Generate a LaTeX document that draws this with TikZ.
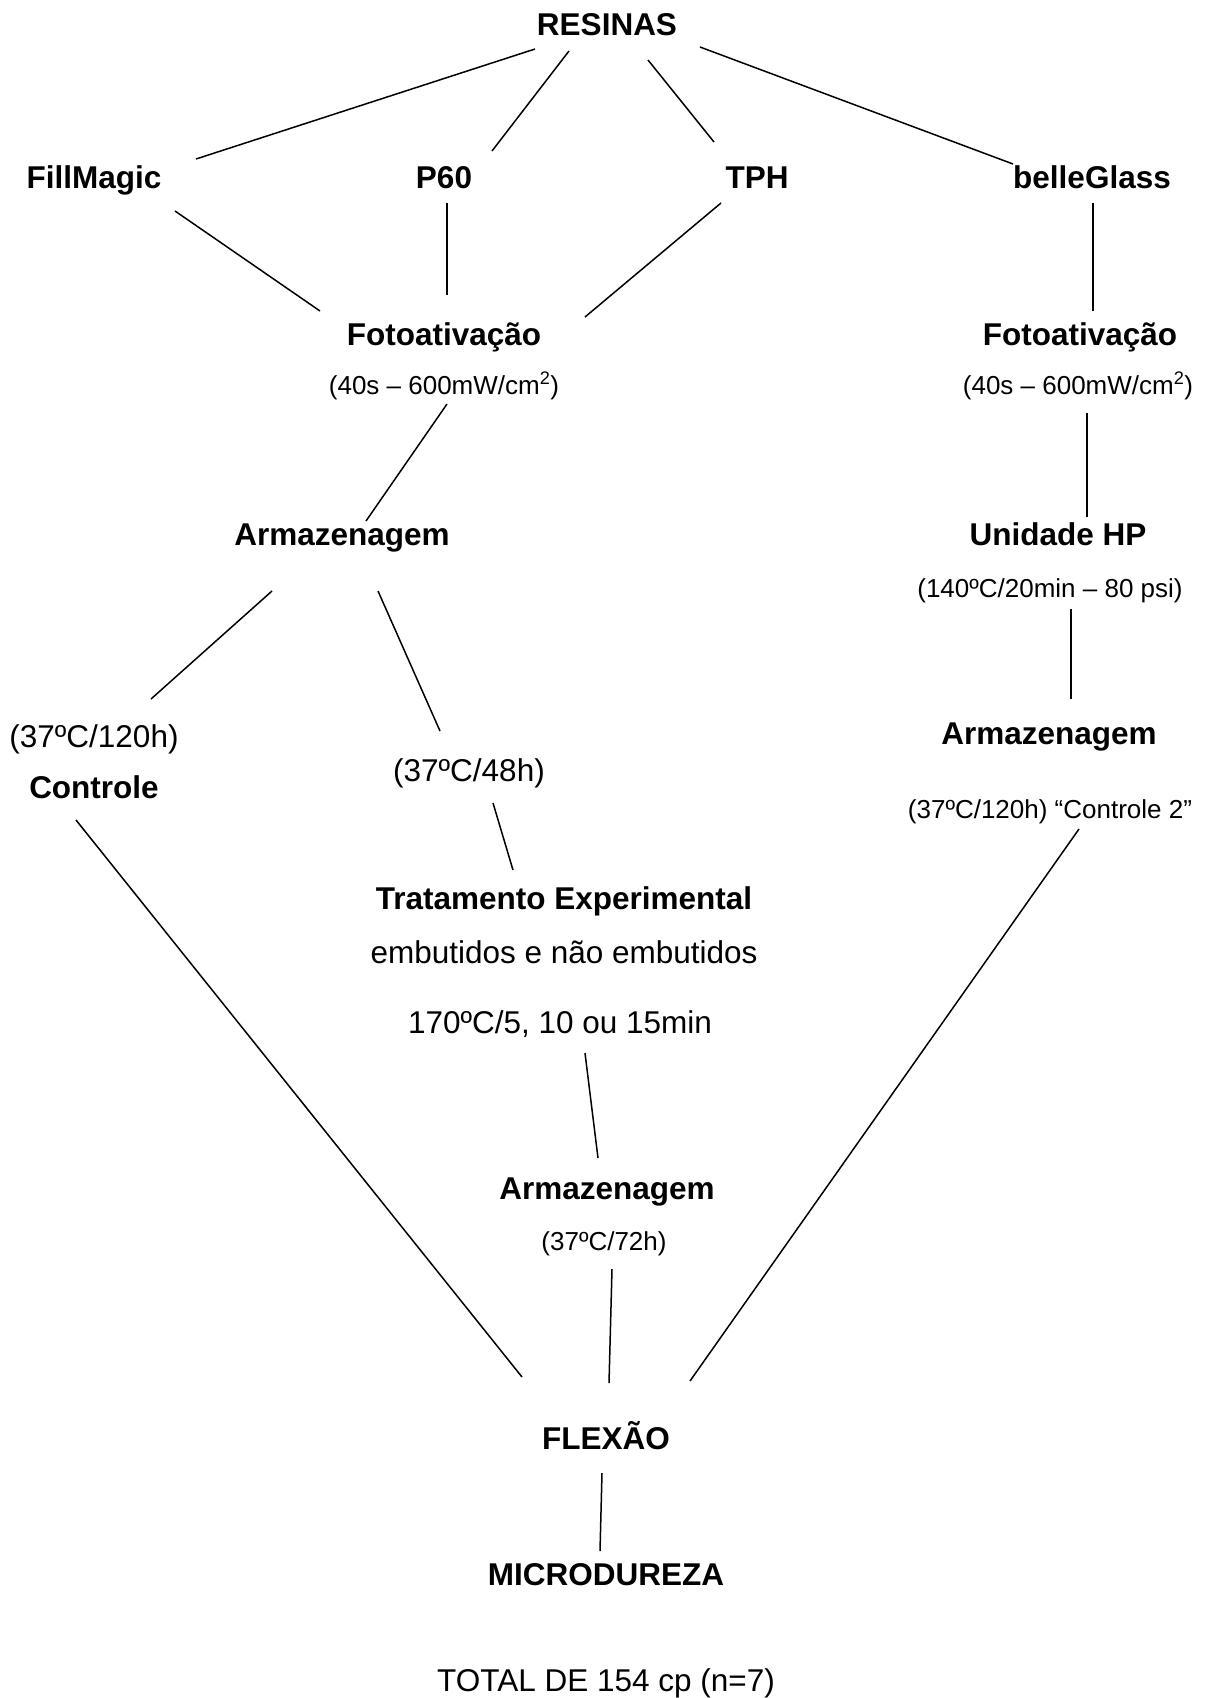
\documentclass[tikz,border=0pt]{standalone}
\usepackage{fontspec}
\setmainfont{Liberation Sans}
\begin{document}
\begin{tikzpicture}[x=1pt,y=-1pt,
  big/.style={anchor=base,inner sep=0pt,font=\fontsize{31.5}{36}\selectfont\bfseries},
  bigr/.style={anchor=base,inner sep=0pt,font=\fontsize{31.5}{36}\selectfont},
  small/.style={anchor=base,inner sep=0pt,font=\fontsize{26}{30}\selectfont},
  conn/.style={line width=1.5pt}]
\useasboundingbox (0,0) rectangle (1209,1698);
\fill[white] (0,0) rectangle (1209,1698);
% nodes
\node[big] (resinas) at (607,35) {RESINAS};
\node[big] (fill) at (94,188) {FillMagic};
\node[big] (p60) at (444,188) {P60};
\node[big] (tph) at (757,188) {TPH};
\node[big] (belle) at (1092,188) {belleGlass};
\node[big] (fotoL) at (444,345) {Fotoativação};
\node[small] (subL) at (444,394) {(40s – 600mW/cm\textsuperscript{2})};
\node[big] (fotoR) at (1080,345) {Fotoativação};
\node[small] (subR) at (1078,394) {(40s – 600mW/cm\textsuperscript{2})};
\node[big] (armL) at (342,545) {Armazenagem};
\node[big] (unid) at (1058,545) {Unidade HP};
\node[small] (unidsub) at (1050,597) {(140ºC/20min – 80 psi)};
\node[bigr] (c120) at (94,747) {(37ºC/120h)};
\node[big] (controle) at (94,798) {Controle};
\node[bigr] (c48) at (469,781) {(37ºC/48h)};
\node[big] (armR) at (1049,744) {Armazenagem};
\node[small] (c2) at (1050,818) {(37ºC/120h) “Controle 2”};
\node[big] (trat) at (564,909) {Tratamento Experimental};
\node[bigr] (emb) at (564,963) {embutidos e não embutidos};
\node[bigr] (t170) at (560,1033) {170ºC/5, 10 ou 15min};
\node[big] (armB) at (607,1199) {Armazenagem};
\node[small] (c72) at (604,1250) {(37ºC/72h)};
\node[big] (flex) at (606,1449) {FLEXÃO};
\node[big] (micro) at (606,1585) {MICRODUREZA};
\node[bigr] (total) at (606,1691) {TOTAL DE 154 cp (n=7)};
% connectors
\draw[conn] ([shift={(-72,14)}]resinas.base) -- ([shift={(102,-29)}]fill.base);
\draw[conn] ([shift={(-38,16)}]resinas.base) -- ([shift={(48,-37)}]p60.base);
\draw[conn] ([shift={(41,25)}]resinas.base) -- ([shift={(-43,-46)}]tph.base);
\draw[conn] ([shift={(93,12)}]resinas.base) -- ([shift={(-79,-24)}]belle.base);
\draw[conn] ([shift={(81,23)}]fill.base) -- ([shift={(-124,-34)}]fotoL.base);
\draw[conn] ([shift={(3,15)}]p60.base) -- ([shift={(3,-50)}]fotoL.base);
\draw[conn] ([shift={(-36,15)}]tph.base) -- ([shift={(141,-28)}]fotoL.base);
\draw[conn] ([shift={(1,15)}]belle.base) -- ([shift={(13,-34)}]fotoR.base);
\draw[conn] ([shift={(3,10)}]subL.base) -- ([shift={(24,-24)}]armL.base);
\draw[conn] ([shift={(9,19)}]subR.base) -- ([shift={(29,-28)}]unid.base);
\draw[conn] ([shift={(-70,46)}]armL.base) -- ([shift={(57,-48)}]c120.base);
\draw[conn] ([shift={(36,46)}]armL.base) -- ([shift={(-29,-50)}]c48.base);
\draw[conn] ([shift={(21,12)}]unidsub.base) -- ([shift={(22,-45)}]armR.base);
\draw[conn] ([shift={(24,22)}]c48.base) -- ([shift={(-51,-39)}]trat.base);
\draw[conn] ([shift={(-18,22)}]controle.base) -- ([shift={(-84,-72)}]flex.base);
\draw[conn] ([shift={(25,20)}]t170.base) -- ([shift={(-9,-41)}]armB.base);
\draw[conn] ([shift={(8,19)}]c72.base) -- ([shift={(3,-66)}]flex.base);
\draw[conn] ([shift={(29,11)}]c2.base) -- ([shift={(84,-68)}]flex.base);
\draw[conn] ([shift={(-4,24)}]flex.base) -- ([shift={(-6,-34)}]micro.base);
\end{tikzpicture}
\end{document}
